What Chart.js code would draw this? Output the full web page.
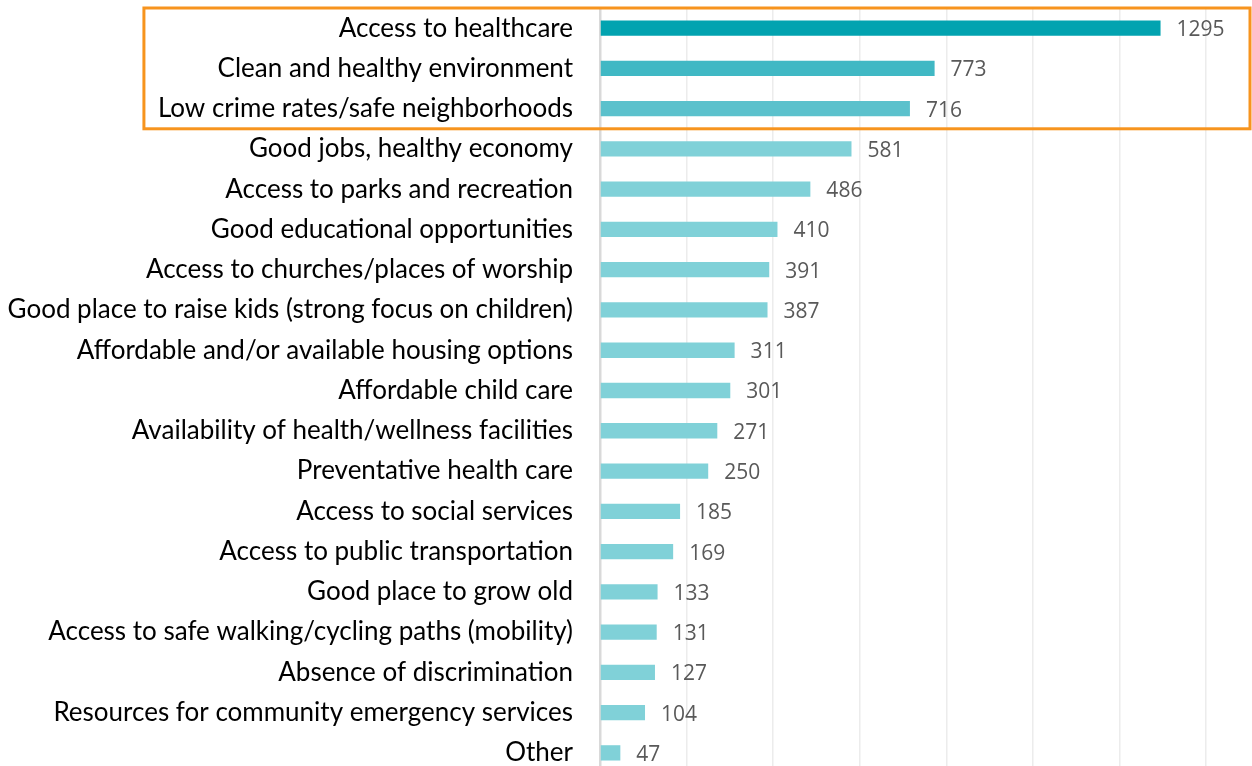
<!DOCTYPE html>
<html>
<head>
<meta charset="utf-8">
<script src="https://cdn.jsdelivr.net/npm/chart.js@4.4.1/dist/chart.umd.min.js"></script>
<style>
	html, body { margin: 0; padding: 0; background: #fff; overflow: hidden; }
	#wrap { position: relative; width: 1252px; height: 773px; }
</style>
</head>
<body>
<div id="wrap"><canvas id="chart"></canvas></div>
<script>
const categories = [
	'Access to healthcare',
	'Clean and healthy environment',
	'Low crime rates/safe neighborhoods',
	'Good jobs, healthy economy',
	'Access to parks and recreation',
	'Good educational opportunities',
	'Access to churches/places of worship',
	'Good place to raise kids (strong focus on children)',
	'Affordable and/or available housing options',
	'Affordable child care',
	'Availability of health/wellness facilities',
	'Preventative health care',
	'Access to social services',
	'Access to public transportation',
	'Good place to grow old',
	'Access to safe walking/cycling paths (mobility)',
	'Absence of discrimination',
	'Resources for community emergency services',
	'Other'
];
const votes = [1295, 773, 716, 581, 486, 410, 391, 387, 311, 301, 271, 250, 185, 169, 133, 131, 127, 104, 47];
const highlighted = 3; // first three rows sit inside the orange box

const barColors = votes.map(function(v, i){
	if (i === 0) return 'rgb(2, 163, 176)';
	if (i === 1) return 'rgb(64, 184, 196)';
	if (i === 2) return 'rgb(91, 193, 204)';
	return 'rgb(128, 209, 216)';
});

const labelFont = '26px Lato, "Open Sans", sans-serif';

// value labels to the right of each bar
const valueLabels = {
	id: 'valueLabels',
	afterDatasetsDraw(chart){
		const ctx = chart.ctx;
		const meta = chart.getDatasetMeta(0);
		ctx.save();
		ctx.font = '21px "Open Sans", Lato, sans-serif';
		ctx.fillStyle = '#595959';
		ctx.textAlign = 'left';
		ctx.textBaseline = 'middle';
		meta.data.forEach(function(bar, i){
			ctx.fillText(String(votes[i]), bar.x + 16, bar.y + 2);
		});
		ctx.restore();
	}
};

// orange frame around the top group
const highlightBox = {
	id: 'highlightBox',
	afterDraw(chart){
		const ctx = chart.ctx;
		const y = chart.scales.y;
		const band = y.getPixelForValue(1) - y.getPixelForValue(0);
		const top = y.getPixelForValue(0) - band / 2;
		const bottom = y.getPixelForValue(highlighted - 1) + band / 2;
		ctx.save();
		ctx.font = labelFont;
		let widest = 0;
		for (let i = 0; i < highlighted; i++) {
			widest = Math.max(widest, ctx.measureText(categories[i]).width);
		}
		const left = y.right - y.options.ticks.padding - widest - 14;
		ctx.strokeStyle = 'rgb(247, 148, 30)';
		ctx.lineWidth = 3;
		ctx.strokeRect(left, top, chart.width - 2 - left, bottom - top);
		ctx.restore();
	}
};

new Chart(document.getElementById('chart'), {
	type: 'bar',
	data: {
		labels: categories,
		datasets: [{
			label: 'Votes',
			data: votes,
			backgroundColor: barColors,
			borderWidth: 0,
			barPercentage: 0.38,
			categoryPercentage: 1
		}]
	},
	options: {
		indexAxis: 'y',
		responsive: true,
		maintainAspectRatio: false,
		animation: false,
		layout: {
			padding: { top: 8, right: 46, bottom: 0, left: 0 }
		},
		plugins: {
			legend: { display: false },
			title: { display: false },
			tooltip: { enabled: false }
		},
		scales: {
			x: {
				min: 0,
				max: 1400,
				ticks: { display: false, stepSize: 200 },
				grid: { color: '#ececec', lineWidth: 1.5, drawTicks: false },
				border: { display: false },
				afterFit(scale){ scale.height = 0; }
			},
			y: {
				ticks: {
					color: '#000',
					font: { family: 'Lato, "Open Sans", sans-serif', size: 26 },
					padding: 27,
					autoSkip: false
				},
				grid: { display: false, drawTicks: false },
				border: { display: true, color: '#d9d9d9', width: 2.5 },
				afterFit(scale){
					scale.width = 600;
					scale.paddingTop = 0;
					scale.paddingBottom = 0;
				}
			}
		}
	},
	plugins: [valueLabels, highlightBox]
});
</script>
</body>
</html>
